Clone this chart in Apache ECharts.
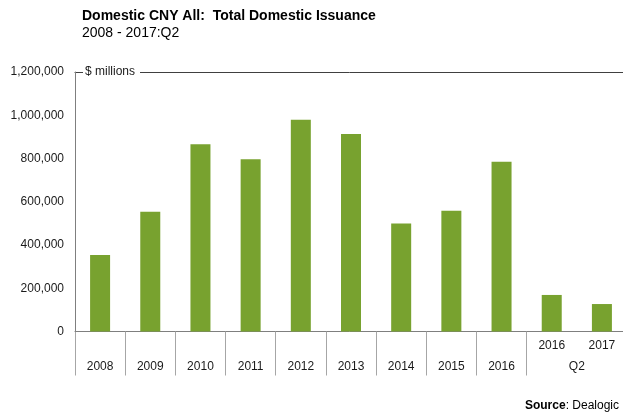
<!DOCTYPE html>
<html>
<head>
<meta charset="utf-8">
<title>Domestic CNY All: Total Domestic Issuance</title>
<script src="https://cdn.jsdelivr.net/npm/echarts@6/dist/echarts.min.js"></script>
<style>
  html, body { margin: 0; padding: 0; background: #fff; }
  #chart { width: 623px; height: 412px; }
</style>
</head>
<body>
<div id="chart"></div>
<script>
// categories: full years, then the two Q2 (H1) periods
const categories = ['2008', '2009', '2010', '2011', '2012', '2013', '2014', '2015', '2016', '2016', '2017']
const groupLabels = { 10: 'Q2' } // centred between the last two bars
const issuance = [354000, 554000, 866000, 796000, 979000, 913000, 500000, 558000, 785000, 169000, 127000]
const yTicks = [0, 200000, 400000, 600000, 800000, 1000000, 1200000]

const font = 'Liberation Sans, Arial, sans-serif'
const barColor = '#78a22f'
const axisColor = '#7f7f7f'
const sepColor = '#a6a6a6'
const textColor = '#1a1a1a'

const fmt = v => v.toLocaleString('en-US')

const getOption = () => ({
  backgroundColor: '#fff',
  animation: false,
  title: [
    {
      text: 'Domestic CNY All:  Total Domestic Issuance',
      subtext: '2008 - 2017:Q2',
      left: 77,
      top: 4,
      itemGap: 3,
      textStyle: { fontFamily: font, fontSize: 14, fontWeight: 'bold', color: '#000' },
      subtextStyle: { fontFamily: font, fontSize: 14, color: '#000' },
    },
    {
      text: '{b|Source}: Dealogic',
      right: -1,
      bottom: -5,
      textStyle: {
        fontFamily: font, fontSize: 12, fontWeight: 'normal', color: '#000',
        rich: { b: { fontFamily: font, fontSize: 12, fontWeight: 'bold', color: '#000' } },
      },
    },
  ],
  grid: { left: 75, top: 72, width: 552, height: 259.5, outerBoundsMode: 'none', containLabel: false },
  xAxis: [
    {
      type: 'category',
      data: categories,
      position: 'bottom',
      axisLine: { lineStyle: { color: axisColor, width: 1 } },
      axisTick: {
        show: true,
        length: 44,
        inside: false,
        interval: i => i !== 10,
        lineStyle: { color: sepColor },
      },
      axisLabel: {
        interval: 0,
        margin: 4,
        lineHeight: 21,
        fontFamily: font,
        fontSize: 12,
        color: textColor,
        formatter: (v, i) => (i >= 9 ? v + '\n' : '\n' + v),
      },
    },
    {
      // top rule of the plot
      type: 'category',
      data: categories,
      position: 'top',
      axisLine: { lineStyle: { color: '#404040', width: 1 } },
      axisTick: { show: false },
      axisLabel: { show: false },
    },
    {
      // group label under the Q2 bars
      type: 'value',
      position: 'bottom',
      min: 0,
      max: categories.length,
      interval: 1,
      axisLine: { show: false },
      axisTick: { show: false },
      splitLine: { show: false },
      axisLabel: {
        margin: 4,
        lineHeight: 21,
        fontFamily: font,
        fontSize: 12,
        color: textColor,
        showMinLabel: false,
        showMaxLabel: false,
        formatter: v => (groupLabels[v] ? '\n' + groupLabels[v] : ''),
      },
    },
  ],
  yAxis: {
    type: 'value',
    min: yTicks[0],
    max: yTicks[yTicks.length - 1],
    interval: yTicks[1] - yTicks[0],
    z: 5,
    name: '{gap|}{t|$ millions}',
    nameLocation: 'end',
    nameGap: 0,
    nameTextStyle: {
      align: 'left',
      verticalAlign: 'middle',
      rich: {
        gap: { width: 8 },
        t: {
          fontFamily: font,
          fontSize: 12,
          color: textColor,
          backgroundColor: '#fff',
          padding: [2, 5, 2, 2],
        },
      },
    },
    axisLine: { show: true, lineStyle: { color: axisColor, width: 1 } },
    axisTick: { show: false },
    splitLine: { show: false },
    axisLabel: {
      margin: 11,
      padding: [3, 0, 0, 0],
      fontFamily: font,
      fontSize: 12,
      color: textColor,
      formatter: v => fmt(v),
    },
  },
  series: [
    {
      type: 'bar',
      xAxisIndex: 0,
      yAxisIndex: 0,
      data: issuance,
      barWidth: 20,
      itemStyle: { color: barColor },
    },
  ],
})

const chartInstance = echarts.init(document.getElementById('chart'), null, { renderer: 'canvas' })
chartInstance.setOption(getOption())
</script>
</body>
</html>
